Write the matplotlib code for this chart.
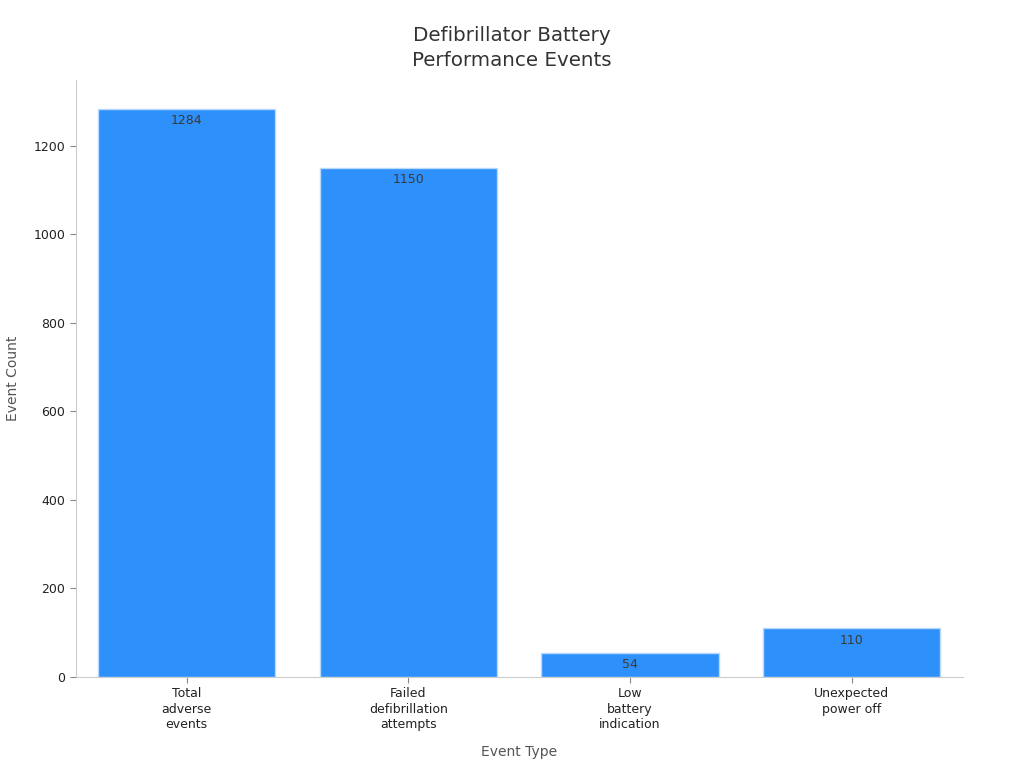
import matplotlib.pyplot as plt

# Данные
categories = ['Total\nadverse\nevents', 'Failed\ndefibrillation\nattempts',
              'Low\nbattery\nindication', 'Unexpected\npower off']
counts = [1284, 1150, 54, 110]

fig = plt.figure(figsize=(10.24, 7.68), dpi=100)
ax = fig.add_axes([0.074, 0.1185, 0.866, 0.7775])

x = range(len(categories))
bars = ax.bar(x, counts, width=0.8, color='#2E90FA', edgecolor='#B9D9FB', linewidth=1)

# подписи значений внутри столбцов
for b, v in zip(bars, counts):
    ax.text(b.get_x() + b.get_width() / 2, v - 12, str(v), ha='center', va='top',
            fontsize=9, color='#3a3a3a')

ax.set_xticks(list(x))
ax.set_xticklabels(categories, fontsize=9, color='#222222', linespacing=1.25)
ax.set_xlim(-0.5, 3.5)
ax.set_ylim(0, 1349)
ax.set_yticks([0, 200, 400, 600, 800, 1000, 1200])
ax.tick_params(axis='y', labelsize=9, labelcolor='#222222', color='#888888', length=4)
ax.tick_params(axis='x', color='#888888', length=4)

for s in ['top', 'right']:
    ax.spines[s].set_visible(False)
for s in ['left', 'bottom']:
    ax.spines[s].set_color('#CCCCCC')

ax.set_xlabel('Event Type', fontsize=10, color='#555555', labelpad=10)
ax.set_ylabel('Event Count', fontsize=10, color='#555555', labelpad=10)
ax.set_title('Defibrillator Battery\nPerformance Events', fontsize=14.3, color='#333333',
             pad=10, x=(0.5 - 0.074) / 0.866, linespacing=1.4)

fig.savefig('out.png', dpi=100)
